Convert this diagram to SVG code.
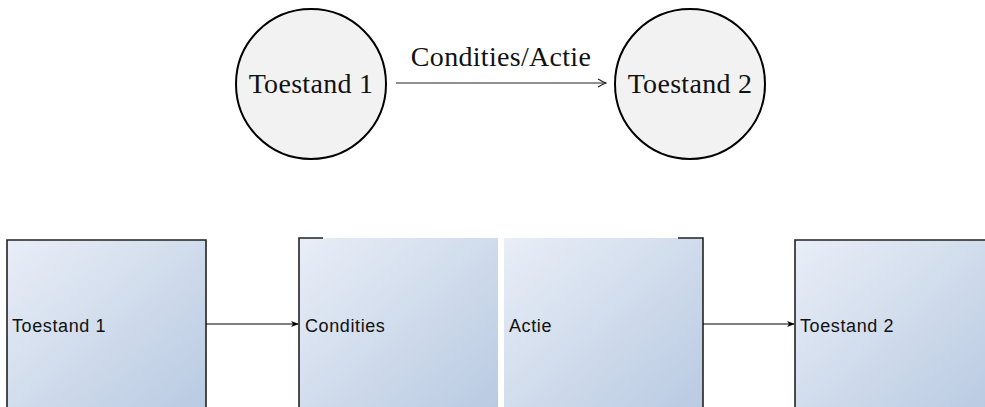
<svg xmlns="http://www.w3.org/2000/svg" width="985" height="407" viewBox="0 0 985 407">
  <style>
    .state { fill: #f2f2f2; stroke: #000; stroke-width: 2; }
    .serif { font-family: "Liberation Serif", "DejaVu Serif", serif; font-size: 28px; fill: #111; letter-spacing: 0.3px; }
    .box { fill: url(#boxFill); }
    .edge { fill: none; stroke: #222; stroke-width: 1.6; }
    .label { font-family: "Liberation Sans", Arial, sans-serif; font-size: 18px; fill: #111; letter-spacing: 0.6px; }
    .wire { fill: none; stroke: #000; stroke-width: 1.1; }
    .latex { fill: none; stroke: #222; stroke-width: 1.2; }
  </style>
  <defs>
    <linearGradient id="boxFill" x1="0" y1="0" x2="1" y2="1">
      <stop offset="0" stop-color="#e9eef7"/>
      <stop offset="1" stop-color="#b7c9e1"/>
    </linearGradient>
    <marker id="head" viewBox="0 0 10 10" refX="9" refY="5" markerWidth="8" markerHeight="8" markerUnits="userSpaceOnUse" orient="auto">
      <path d="M0,1 L10,5 L0,9 L3,5 Z" fill="#000"/>
    </marker>
    <marker id="texHead" viewBox="0 0 10 10" refX="9" refY="5" markerWidth="10" markerHeight="10" markerUnits="userSpaceOnUse" orient="auto">
      <path d="M1,1 Q6,4 9,5 Q6,6 1,9" fill="none" stroke="#222" stroke-width="1.2"/>
    </marker>
  </defs>

  <!-- state machine notation -->
  <g id="state1">
    <circle class="state" cx="311" cy="84" r="75"/>
    <text class="serif" x="311" y="93" text-anchor="middle">Toestand 1</text>
  </g>
  <g id="state2">
    <circle class="state" cx="690" cy="84" r="75"/>
    <text class="serif" x="690" y="93" text-anchor="middle">Toestand 2</text>
  </g>

  <!-- block notation -->
  <g id="blockToestand1">
    <rect class="box" x="7" y="240" width="199" height="180"/>
    <path class="edge" d="M7,420 V240 H206 V420"/>
    <text class="label" x="12" y="332">Toestand 1</text>
  </g>
  <g id="blockCondities">
    <rect class="box" x="299" y="238" width="199" height="182"/>
    <path class="edge" d="M299,420 V238 H323"/>
    <text class="label" x="305" y="332">Condities</text>
  </g>
  <g id="blockActie">
    <rect class="box" x="504" y="238" width="199" height="182"/>
    <path class="edge" d="M678,238 H703 V420"/>
    <text class="label" x="509" y="332">Actie</text>
  </g>
  <g id="blockToestand2">
    <rect class="box" x="795" y="240" width="200" height="180"/>
    <path class="edge" d="M795,420 V240 H990"/>
    <text class="label" x="800" y="332">Toestand 2</text>
  </g>

  <g id="connectors">
    <line class="latex" x1="396" y1="83" x2="606" y2="83" marker-end="url(#texHead)"/>
    <text class="serif" x="501" y="66" text-anchor="middle">Condities/Actie</text>
    <line class="wire" x1="206" y1="324" x2="298" y2="324" marker-end="url(#head)"/>
    <line class="wire" x1="703" y1="324" x2="794" y2="324" marker-end="url(#head)"/>
  </g>
</svg>
